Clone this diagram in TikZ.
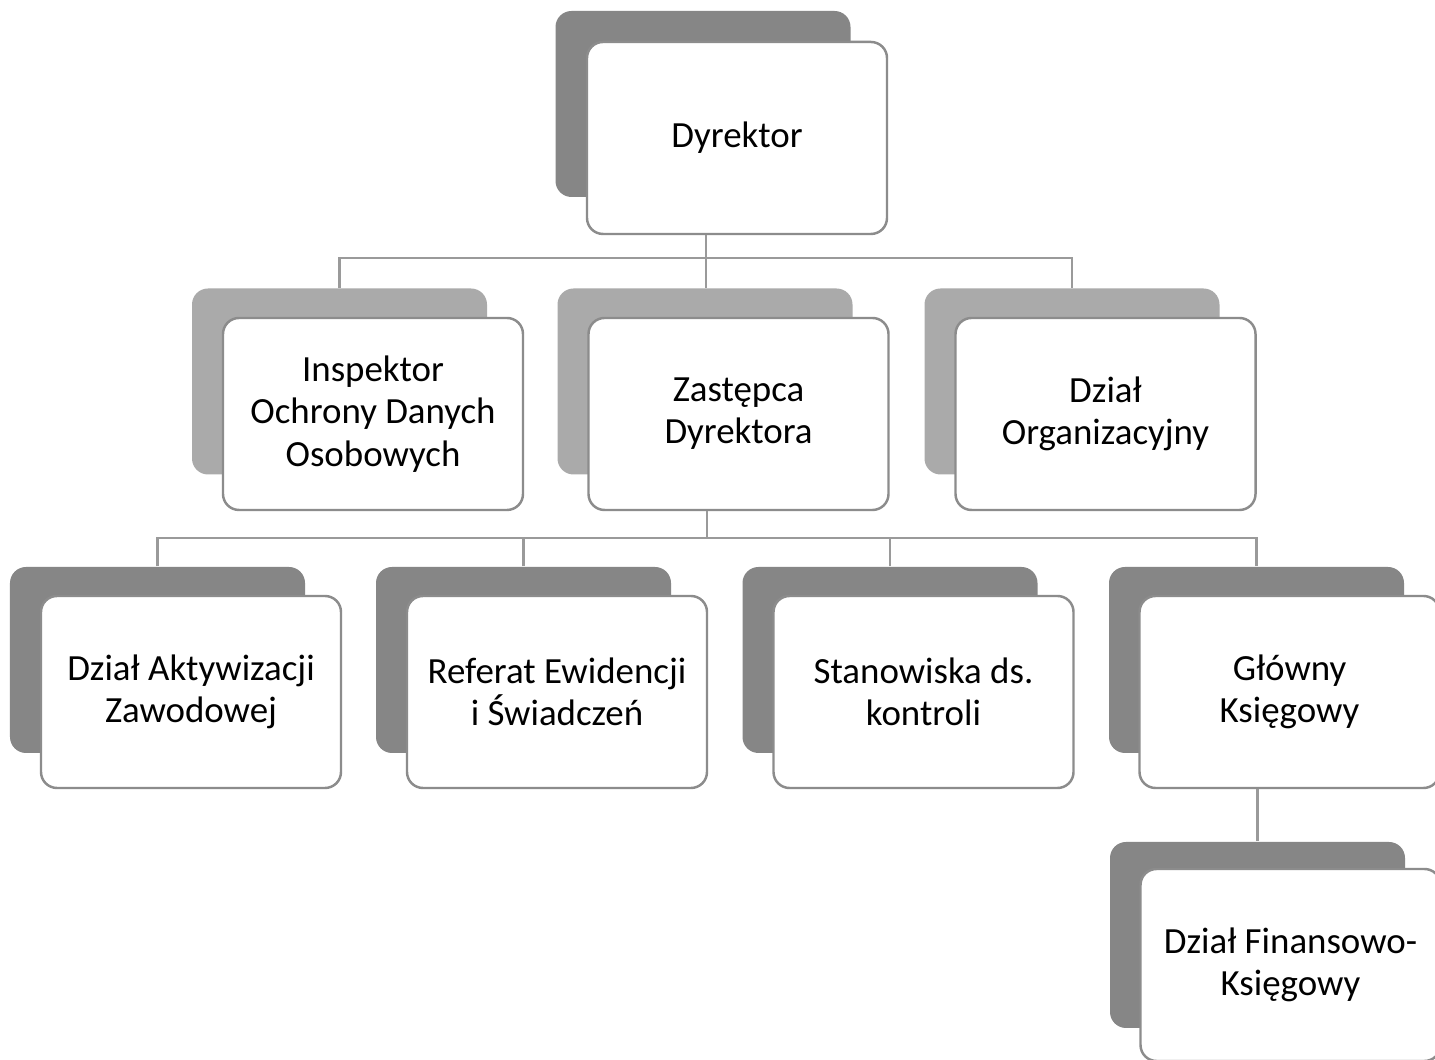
\documentclass[tikz,border=0pt]{standalone}
\usepackage{fontspec}
\setmainfont{Carlito}
\usetikzlibrary{calc}
\definecolor{backdark}{HTML}{868686}
\definecolor{backlight}{HTML}{AAAAAA}
\definecolor{edge}{HTML}{8C8C8C}
\definecolor{linecol}{HTML}{9A9A9A}
\begin{document}
\begin{tikzpicture}[
  backbox/.style={rounded corners=0.16cm, minimum width=2.95cm, minimum height=1.86cm, inner sep=0pt},
  dark/.style={backbox, fill=backdark},
  light/.style={backbox, fill=backlight},
  frontbox/.style={rounded corners=0.16cm, minimum width=3.0cm, minimum height=1.92cm, inner sep=0pt,
    fill=white, draw=edge, line width=0.7pt, align=center, font=\fontsize{10.5pt}{12pt}\selectfont},
  conn/.style={draw=linecol, line width=0.6pt}
]
\useasboundingbox (0,0) rectangle (14.35,10.60);
\fill[white] (0,0) rectangle (14.35,10.60);

% back boxes
\node[dark]  (dB) at (7.03,9.56) {};
\node[light] (iB) at (3.395,6.785) {};
\node[light] (zB) at (7.05,6.785) {};
\node[light] (oB) at (10.72,6.785) {};
\node[dark]  (aB) at (1.575,4.00) {};
\node[dark]  (rB) at (5.235,4.00) {};
\node[dark]  (sB) at (8.90,4.00) {};
\node[dark]  (gB) at (12.565,4.00) {};
\node[dark]  (fB) at (12.575,1.25) {};

% front boxes
\node[frontbox] (d) at ($(dB)+(0.34,-0.34)$) {Dyrektor};
\node[frontbox] (i) at ($(iB)+(0.335,-0.325)$) {Inspektor\\Ochrony Danych\\Osobowych};
\node[frontbox] (z) at ($(zB)+(0.335,-0.325)$) {Zastępca\\Dyrektora};
\node[frontbox] (o) at ($(oB)+(0.335,-0.325)$) {Dział\\Organizacyjny};
\node[frontbox] (a) at ($(aB)+(0.335,-0.32)$) {Dział Aktywizacji\\Zawodowej};
\node[frontbox] (r) at ($(rB)+(0.335,-0.32)$) {Referat Ewidencji\\i Świadczeń};
\node[frontbox] (s) at ($(sB)+(0.335,-0.32)$) {Stanowiska ds.\\kontroli};
\node[frontbox] (g) at ($(gB)+(0.33,-0.32)$) {Główny\\Księgowy};
\node[frontbox] (f) at ($(fB)+(0.33,-0.30)$) {Dział Finansowo-\\Księgowy};

% buses
\coordinate (bus1) at (7.06,8.02);
\coordinate (bus2) at (7.07,5.22);

\draw[conn] (d.south -| bus1) -- (bus1);
\draw[conn] (iB.north) |- (bus1) -| (oB.north);
\draw[conn] (bus1) -- (bus1 |- zB.north);

\draw[conn] (z.south -| bus2) -- (bus2);
\draw[conn] (aB.north) |- (bus2) -| (gB.north);
\draw[conn] (rB.north) -- (rB.north |- bus2);
\draw[conn] (sB.north) -- (sB.north |- bus2);

\draw[conn] (fB.north |- g.south) -- (fB.north);
\end{tikzpicture}
\end{document}
